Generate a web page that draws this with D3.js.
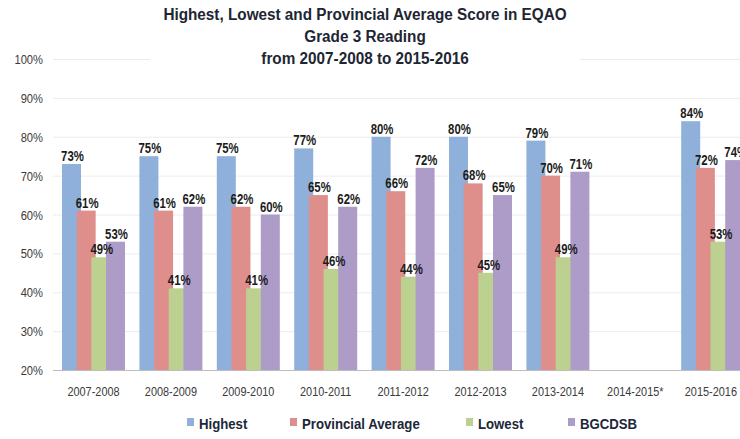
<!DOCTYPE html>
<html>
<head>
<meta charset="utf-8">
<script src="https://cdn.jsdelivr.net/npm/d3@7"></script>
<style>
  body { margin: 0; background: #fff; }
  text { font-family: "Liberation Sans", Arial, sans-serif; }
</style>
</head>
<body>
<div id="chart"></div>
<script>
  let width = 740, height = 439

  let categories = ["2007-2008", "2008-2009", "2009-2010", "2010-2011", "2011-2012",
                    "2012-2013", "2013-2014", "2014-2015*", "2015-2016"]
  let seriesNames = ["Highest", "Provincial Average", "Lowest", "BGCDSB"]
  let highest    = [73, 75, 75, 77, 80, 80, 79, null, 84]
  let provincial = [61, 61, 62, 65, 66, 68, 70, null, 72]
  let lowest     = [49, 41, 41, 46, 44, 45, 49, null, 53]
  let bgcdsb     = [53, 62, 60, 62, 72, 65, 71, null, 74]
  let yTicks = [20, 30, 40, 50, 60, 70, 80, 90, 100]
  let titleLines = ["Highest, Lowest and Provincial Average Score in EQAO",
                    "Grade 3 Reading",
                    "from 2007-2008  to 2015-2016"]

  let seriesValues = [highest, provincial, lowest, bgcdsb]
  let colors = ["#8fb0da", "#de8f8c", "#bcd18f", "#ae9cc8"]

  let svg = d3.select("#chart").append("svg")
    .attr("width", width)
    .attr("height", height)

  // no narrow font installed, so squeeze text horizontally
  function squeeze(sel, sx, fx, fy){
    sel.attr("transform", function(d, i){
      return "translate(" + fx(d, i) + "," + fy(d, i) + ") scale(" + sx + ",1)"
    })
  }

  let x = d3.scaleBand()
    .domain(categories)
    .range([54.8, 54.8 + 77.4 * categories.length])

  let sub = d3.scalePoint()
    .domain(seriesNames)
    .range([0, 44])
  let barW = 19
  let pad = 7.2

  let y = d3.scaleLinear()
    .domain([20, 100])
    .range([370, 59])

  // gridlines
  svg.append("g")
    .selectAll("line")
    .data(yTicks.slice(1))
    .enter().append("line")
      .attr("x1", 53).attr("x2", width)
      .attr("y1", function(d){ return y(d) + 0.5 })
      .attr("y2", function(d){ return y(d) + 0.5 })
      .attr("stroke", "#ececec")

  // y tick labels
  let yLab = svg.append("g")
    .selectAll("text")
    .data(yTicks)
    .enter().append("text")
      .attr("text-anchor", "end")
      .style("font-size", "13px")
      .style("fill", "#3a3a3a")
      .text(function(d){ return d + "%" })
  squeeze(yLab, 0.86, function(){ return 43 }, function(d){ return y(d) + 5 })

  // bars
  let groups = svg.append("g").selectAll("g")
    .data(seriesNames)
    .enter().append("g")

  groups.each(function(s, si){
    let g = d3.select(this)
    let vals = categories.map(function(c, i){ return {cat: c, v: seriesValues[si][i]} })
      .filter(function(d){ return d.v != null })

    g.selectAll("rect")
      .data(vals)
      .enter().append("rect")
        .attr("x", function(d){ return x(d.cat) + pad + sub(s) })
        .attr("y", function(d){ return y(d.v) })
        .attr("width", barW)
        .attr("height", function(d){ return y(20) - y(d.v) })
        .attr("fill", colors[si])
  })

  // value labels on top of everything
  seriesNames.forEach(function(s, si){
    let vals = categories.map(function(c, i){ return {cat: c, v: seriesValues[si][i]} })
      .filter(function(d){ return d.v != null })
    let lab = svg.append("g").selectAll("text")
      .data(vals)
      .enter().append("text")
        .attr("text-anchor", "middle")
        .style("font-size", "15px")
        .style("font-weight", "bold")
        .style("fill", "#1c1c1c")
        .text(function(d){ return d.v + "%" })
    squeeze(lab, 0.76,
      function(d){ return x(d.cat) + pad + sub(s) + barW / 2 + 1 },
      function(d){ return y(d.v) - 3 })
  })

  // x axis line
  svg.append("line")
    .attr("x1", 53).attr("x2", width)
    .attr("y1", y(20) + 0.5).attr("y2", y(20) + 0.5)
    .attr("stroke", "#bcbcbc")

  let xs = 0.84
  let xLab = svg.append("g").selectAll("text")
    .data(categories)
    .enter().append("text")
      .attr("text-anchor", "middle")
      .style("font-size", "13px")
      .style("fill", "#3a3a3a")
      .text(function(d){ return d })
  // keep the last label inside the picture
  xLab.each(function(d){
    let w = this.getComputedTextLength() * xs
    let cx = Math.min(x(d) + x.bandwidth() / 2, width - 3 - w / 2)
    d3.select(this).attr("transform", "translate(" + cx + ",396) scale(" + xs + ",1)")
  })

  // title (white box hides the top gridline behind it)
  svg.append("rect")
    .attr("x", 150).attr("y", 0)
    .attr("width", 430).attr("height", 67)
    .attr("fill", "#fff")

  let title = svg.append("g").selectAll("text")
    .data(titleLines)
    .enter().append("text")
      .attr("text-anchor", "middle")
      .style("font-size", "17px")
      .style("font-weight", "bold")
      .style("fill", "#1e2633")
      .text(function(d){ return d })
  squeeze(title, 0.9, function(){ return 365 }, function(d, i){ return 20 + i * 22 })

  // legend
  let legendX = [187, 290, 466, 568]
  let legend = svg.append("g").selectAll("g")
    .data(seriesNames)
    .enter().append("g")
      .attr("transform", function(d, i){ return "translate(" + legendX[i] + ",418)" })

  legend.append("rect")
    .attr("width", 7).attr("height", 8)
    .attr("fill", function(d, i){ return colors[i] })

  let legText = legend.append("text")
    .style("font-size", "15px")
    .style("font-weight", "bold")
    .style("fill", "#20273a")
    .text(function(d){ return d })
  squeeze(legText, 0.88, function(){ return 12 }, function(){ return 11 })
</script>
</body>
</html>
